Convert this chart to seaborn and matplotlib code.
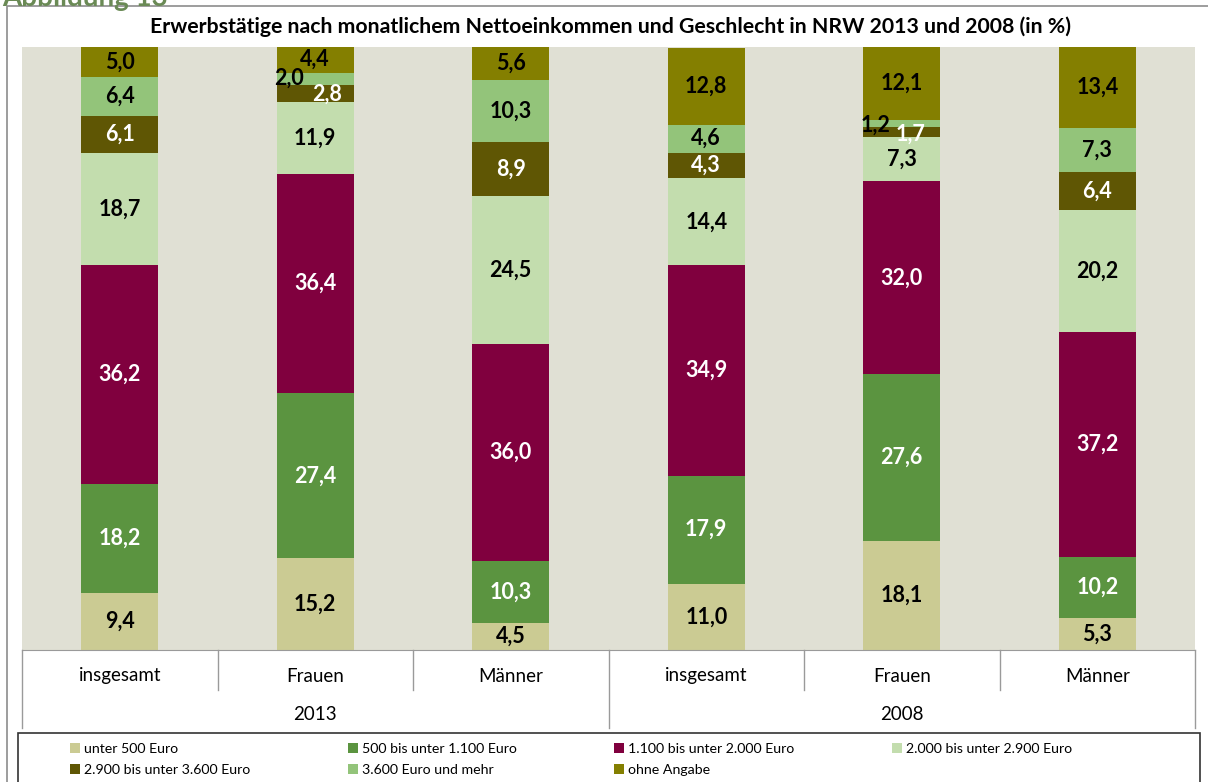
import matplotlib
matplotlib.use("Agg")
import matplotlib.pyplot as plt
from matplotlib.patches import Patch, Rectangle
import numpy as np
import pandas as pd
import seaborn as sns

# Kategorien (Balken von links nach rechts)
gruppen = ["insgesamt", "Frauen", "Männer", "insgesamt", "Frauen", "Männer"]
jahre = ["2013", "2013", "2013", "2008", "2008", "2008"]
schluessel = [f"{g} {j}" for g, j in zip(gruppen, jahre)]

# Einkommensklassen (von unten nach oben gestapelt)
klassen = ["unter 500 Euro", "500 bis unter 1.100 Euro", "1.100 bis unter 2.000 Euro",
           "2.000 bis unter 2.900 Euro", "2.900 bis unter 3.600 Euro",
           "3.600 Euro und mehr", "ohne Angabe"]
farben = ["#cbcb93", "#5b9440", "#80003e", "#c3ddae", "#5f5604", "#93c47a", "#847f00"]
textfarben = ["black", "white", "white", "black", "white", "black", "black"]

unter_500 = [9.4, 15.2, 4.5, 11.0, 18.1, 5.3]
bis_1100 = [18.2, 27.4, 10.3, 17.9, 27.6, 10.2]
bis_2000 = [36.2, 36.4, 36.0, 34.9, 32.0, 37.2]
bis_2900 = [18.7, 11.9, 24.5, 14.4, 7.3, 20.2]
bis_3600 = [6.1, 2.8, 8.9, 4.3, 1.7, 6.4]
ab_3600 = [6.4, 2.0, 10.3, 4.6, 1.2, 7.3]
ohne_angabe = [5.0, 4.4, 5.6, 12.8, 12.1, 13.4]

werte = [unter_500, bis_1100, bis_2000, bis_2900, bis_3600, ab_3600, ohne_angabe]

# verschobene Beschriftungen bei sehr schmalen Segmenten: (balken, klasse) -> (dx, y)
sonderlabels = {
    (1, 4): (0.06, 92.2),
    (1, 5): (-0.133, 94.9),
    (4, 4): (0.046, 85.6),
    (4, 5): (-0.133, 87.1),
}

W, H = 1208, 782
plt.rcParams["font.family"] = ["Lato", "DejaVu Sans"]

fig = plt.figure(figsize=(W / 100, H / 100), dpi=100)
ax = fig.add_axes([22 / W, 1 - 650 / H, (1195 - 22) / W, (650 - 47) / H])
ax.set_facecolor("#e0e0d4")

df = pd.DataFrame({"kategorie": schluessel})
kumuliert = np.cumsum(np.array(werte), axis=0)
for k in range(len(klassen) - 1, -1, -1):
    df["wert"] = kumuliert[k]
    sns.barplot(data=df, x="kategorie", y="wert", order=schluessel, color=farben[k],
                width=0.395, saturation=1, errorbar=None, ax=ax, zorder=2)

for i in range(len(schluessel)):
    unten = 0
    for k in range(len(klassen)):
        v = werte[k][i]
        x, y = i, unten + v / 2
        if (i, k) in sonderlabels:
            dx, y = sonderlabels[(i, k)]
            x = i + dx
        ax.text(x, y, f"{v:.1f}".replace(".", ","), ha="center", va="center",
                fontsize=15.5, fontweight="bold", color=textfarben[k], zorder=5)
        unten += v

ax.set_ylim(0, 100)
ax.set_xlim(-0.5, len(schluessel) - 0.5)
ax.set_xticks([])
ax.set_yticks([])
ax.set_xlabel("")
ax.set_ylabel("")
for s in ["top", "right", "left"]:
    ax.spines[s].set_visible(False)
ax.spines["bottom"].set_color("#9a9a9a")

# Kategorientabelle unter der Achse
trans = ax.get_xaxis_transform()
hoehe = 603
for i, g in enumerate(gruppen):
    ax.text(i, -26 / hoehe, g, transform=trans, ha="center", va="center", fontsize=13.5)
ax.text(1, -65 / hoehe, "2013", transform=trans, ha="center", va="center", fontsize=13.5)
ax.text(4, -65 / hoehe, "2008", transform=trans, ha="center", va="center", fontsize=13.5)
for xb in [0.5, 1.5, 3.5, 4.5]:
    ax.plot([xb, xb], [0, -40 / hoehe], transform=trans, color="#9a9a9a", lw=1, clip_on=False)
for xb in [-0.5, 2.5, 5.5]:
    ax.plot([xb, xb], [0, -78 / hoehe], transform=trans, color="#9a9a9a", lw=1, clip_on=False)

# Titel
fig.text(611 / W, 1 - 27 / H,
         "Erwerbstätige nach monatlichem Nettoeinkommen und Geschlecht in NRW 2013 und 2008 (in %)",
         ha="center", va="center", fontsize=15.3, fontweight="bold")

# Abbildungsnummer (oben abgeschnitten)
fig.text(2 / W, 1 - 6 / H, "Abbildung 13", ha="left", va="baseline",
         fontsize=20, fontweight="bold", color="#6a8a55")

# Rahmen
fig.add_artist(Rectangle((7 / W, -0.01), 1.02, 1 - 6 / H + 0.01, transform=fig.transFigure,
                         fill=False, edgecolor="#8c8c8c", lw=1.2, zorder=0))
fig.add_artist(Rectangle((18 / W, -0.01), (1200 - 18) / W, 1 - 733 / H + 0.01,
                         transform=fig.transFigure, fill=True, facecolor="white",
                         edgecolor="#333333", lw=1.2, zorder=1))

# Legende zeilenweise wie im Original (matplotlib füllt spaltenweise)
handles = [Patch(facecolor=c, edgecolor="none", label=l) for c, l in zip(farben, klassen)]
reihenfolge = [0, 4, 1, 5, 2, 6, 3]
fig.legend(handles=[handles[j] for j in reihenfolge], loc="upper left", ncol=4, mode="expand",
           bbox_to_anchor=(60 / W, 1 - 733 / H, 1022 / W, 0), frameon=False,
           fontsize=10.2, handlelength=0.7, handleheight=0.7, handletextpad=0.3,
           labelspacing=0.65, borderpad=0.2)

fig.savefig("out.png", dpi=100)
